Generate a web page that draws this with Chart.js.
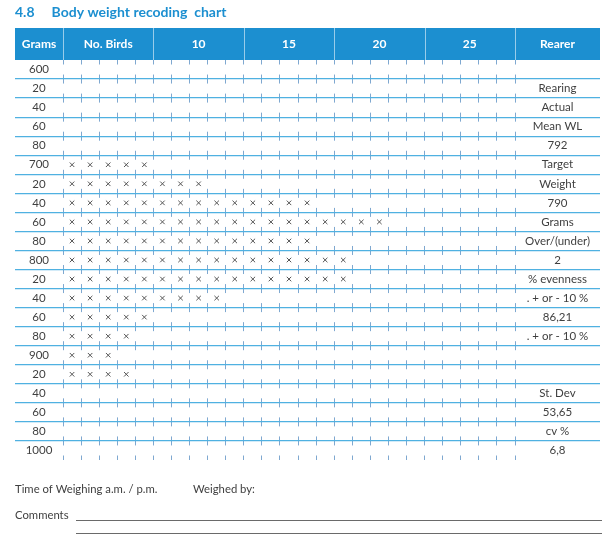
<!DOCTYPE html>
<html><head><meta charset="utf-8">
<script src="https://cdn.jsdelivr.net/npm/chart.js@4"></script>
<style>html,body{margin:0;padding:0;background:#fff}#wrap{width:602px;height:542px;position:relative}</style>
</head><body><div id="wrap"><canvas id="c"></canvas></div>
<script>
// ---- data ----
const titleText = '4.8     Body weight recoding  chart';
const headerLabels = ['Grams', 'No. Birds', '10', '15', '20', '25', 'Rearer'];
const gramLabels = ['600','20','40','60','80','700','20','40','60','80','800','20','40','60','80','900','20','40','60','80','1000'];
const birdCounts = [0,0,0,0,0,5,8,14,18,14,16,16,9,5,4,3,4,0,0,0,0];
const rearerLabels = ['','Rearing','Actual','Mean WL','792','Target','Weight','790','Grams','Over/(under)','2','% evenness','. + or - 10 %','86,21','. + or - 10 %','','','St. Dev','53,65','cv %','6,8'];
const footerLine1 = ['Time of Weighing a.m. / p.m.', 'Weighed by:'];
const footerLine2 = 'Comments';
const numColumns = 25;
const columnsPerGroup = 5;

// ---- layout / style ----
const W = 602, H = 542;
const PAD_L = 15, PAD_R = 2, LEFT_W = 48, RIGHT_W = 85, HEADER_H = 32, FOOTER_H = 82;
const PLOT_W = W - PAD_L - PAD_R - LEFT_W - RIGHT_W;
const COL_W = PLOT_W / numColumns;
const FAMILY = 'Lato, "Open Sans", sans-serif';
const BLUE = '#1c8fd0';
const HLINE = '#4fb1e1';
const VTICK = '#7fa8d0';
const TEXT = '#3f3f3f';
const LABEL_SIZE = 11.5;
const HEAD_SIZE = 12;

function widest(labels, font) {
  const ctx = document.createElement('canvas').getContext('2d');
  ctx.font = font;
  return Math.max(...labels.map(l => ctx.measureText(l).width));
}
const leftWid = widest(gramLabels, `normal ${LABEL_SIZE}px ${FAMILY}`);
const rightWid = widest(rearerLabels, `normal ${LABEL_SIZE}px ${FAMILY}`);

const points = [];
birdCounts.forEach((n, row) => { for (let c = 1; c <= n; c++) points.push({x: c, y: row}); });

const rowTicks = gramLabels.map((_, i) => ({value: i}));
const colBoundaries = Array.from({length: numColumns + 1}, (_, i) => ({value: i + 0.5}));
const groupCount = numColumns / columnsPerGroup;
const headerTicks = [{value: 0.5 - (LEFT_W / 2) / COL_W}]
  .concat(Array.from({length: groupCount}, (_, g) => ({value: g * columnsPerGroup + (columnsPerGroup + 1) / 2})))
  .concat([{value: numColumns + 0.5 + (RIGHT_W / 2) / COL_W}]);

const hColor = ctx => (ctx.index >= 1 && ctx.index <= gramLabels.length - 1) ? HLINE : 'rgba(0,0,0,0)';
const rowH = chart => { const y = chart.scales.y; return Math.abs(y.getPixelForValue(1) - y.getPixelForValue(0)); };

const headerPlugin = {
  id: 'header',
  beforeDraw(chart) {
    const {ctx} = chart;
    const t = chart.scales.xTop, x = chart.scales.x;
    const l = chart.scales.y.left, r = chart.scales.y2.right;
    ctx.save();
    ctx.fillStyle = BLUE;
    ctx.fillRect(l, t.top, r - l, t.bottom - t.top);
    ctx.strokeStyle = 'rgba(255,255,255,0.55)';
    ctx.lineWidth = 1;
    for (let g = 0; g <= groupCount; g++) {
      const px = Math.round(x.getPixelForValue(g * columnsPerGroup + 0.5)) + 0.5;
      ctx.beginPath(); ctx.moveTo(px, t.top); ctx.lineTo(px, t.bottom); ctx.stroke();
    }
    ctx.restore();
  },
  afterDraw(chart) {
    const {ctx} = chart;
    const b = chart.chartArea.bottom;
    const l = chart.scales.y.left;
    ctx.save();
    ctx.font = `normal 11.3px ${FAMILY}`;
    ctx.fillStyle = TEXT;
    ctx.textBaseline = 'middle';
    ctx.fillText(footerLine1[0], l, b + 29);
    ctx.fillText(footerLine1[1], l + 178, b + 29);
    ctx.fillText(footerLine2, l, b + 55);
    ctx.strokeStyle = '#6a6a6a';
    ctx.lineWidth = 1;
    [60.5, 73.5].forEach(dy => {
      ctx.beginPath(); ctx.moveTo(l + 61, b + dy); ctx.lineTo(W, b + dy); ctx.stroke();
    });
    ctx.restore();
  }
};

new Chart(document.getElementById('c'), {
  type: 'scatter',
  data: {
    datasets: [{
      label: 'Birds',
      data: points,
      pointStyle: 'crossRot',
      pointRadius: 3.2,
      pointHoverRadius: 3.2,
      borderColor: '#555',
      backgroundColor: '#555',
      pointBorderWidth: 1,
      showLine: false
    }]
  },
  options: {
    responsive: true,
    maintainAspectRatio: false,
    animation: false,
    events: [],
    layout: {padding: {left: PAD_L, right: PAD_R, top: 0, bottom: FOOTER_H}},
    plugins: {
      legend: {display: false},
      tooltip: {enabled: false},
      title: {
        display: true,
        text: titleText,
        align: 'start',
        color: BLUE,
        font: {family: FAMILY, size: 14, weight: 'bold', lineHeight: 1.2},
        padding: {top: 4, bottom: 7.2}
      }
    },
    scales: {
      x: {
        type: 'linear', position: 'bottom',
        min: 0.5, max: numColumns + 0.5,
        afterBuildTicks: s => { s.ticks = colBoundaries.map(t => ({...t})); },
        ticks: {display: false},
        grid: {color: VTICK, lineWidth: 1, drawTicks: false},
        border: {
          display: false,
          dash: ctx => { const h = rowH(ctx.chart); return [9, h - 9]; },
          dashOffset: 4.5
        },
        afterFit: s => { s.height = 0; s.paddingLeft = 0; s.paddingRight = 0; }
      },
      xTop: {
        type: 'linear', position: 'top',
        min: 0.5, max: numColumns + 0.5,
        afterBuildTicks: s => { s.ticks = headerTicks.map(t => ({...t})); },
        ticks: {
          autoSkip: false, maxRotation: 0, minRotation: 0,
          color: '#ffffff',
          font: {family: FAMILY, size: HEAD_SIZE, weight: 'bold'},
          padding: HEADER_H / 2 - HEAD_SIZE * 1.2 / 2,
          callback: (v, i) => headerLabels[i]
        },
        grid: {display: false, drawTicks: false},
        border: {display: false},
        afterFit: s => { s.height = HEADER_H; s.paddingLeft = 0; s.paddingRight = 0; }
      },
      y: {
        type: 'linear', position: 'left', reverse: true,
        min: -0.5, max: gramLabels.length - 0.5,
        afterBuildTicks: s => { s.ticks = rowTicks.map(t => ({...t})); },
        ticks: {
          autoSkip: false,
          color: TEXT,
          font: {family: FAMILY, size: LABEL_SIZE},
          crossAlign: 'center',
          padding: -(LEFT_W + leftWid) / 2,
          callback: (v, i) => gramLabels[i]
        },
        grid: {offset: true, color: hColor, lineWidth: 1.2, drawTicks: true, tickLength: LEFT_W},
        border: {display: false},
        afterFit: s => { s.width = LEFT_W; s.paddingTop = 0; s.paddingBottom = 0; }
      },
      y2: {
        type: 'linear', position: 'right', reverse: true,
        min: -0.5, max: gramLabels.length - 0.5,
        afterBuildTicks: s => { s.ticks = rowTicks.map(t => ({...t})); },
        ticks: {
          autoSkip: false,
          color: TEXT,
          font: {family: FAMILY, size: LABEL_SIZE},
          crossAlign: 'center',
          padding: -(RIGHT_W + rightWid) / 2,
          callback: (v, i) => rearerLabels[i]
        },
        grid: {offset: true, color: hColor, lineWidth: 1.2, drawOnChartArea: false, drawTicks: true, tickLength: RIGHT_W},
        border: {display: false},
        afterFit: s => { s.width = RIGHT_W; s.paddingTop = 0; s.paddingBottom = 0; }
      }
    }
  },
  plugins: [headerPlugin]
});
</script>
</body></html>
